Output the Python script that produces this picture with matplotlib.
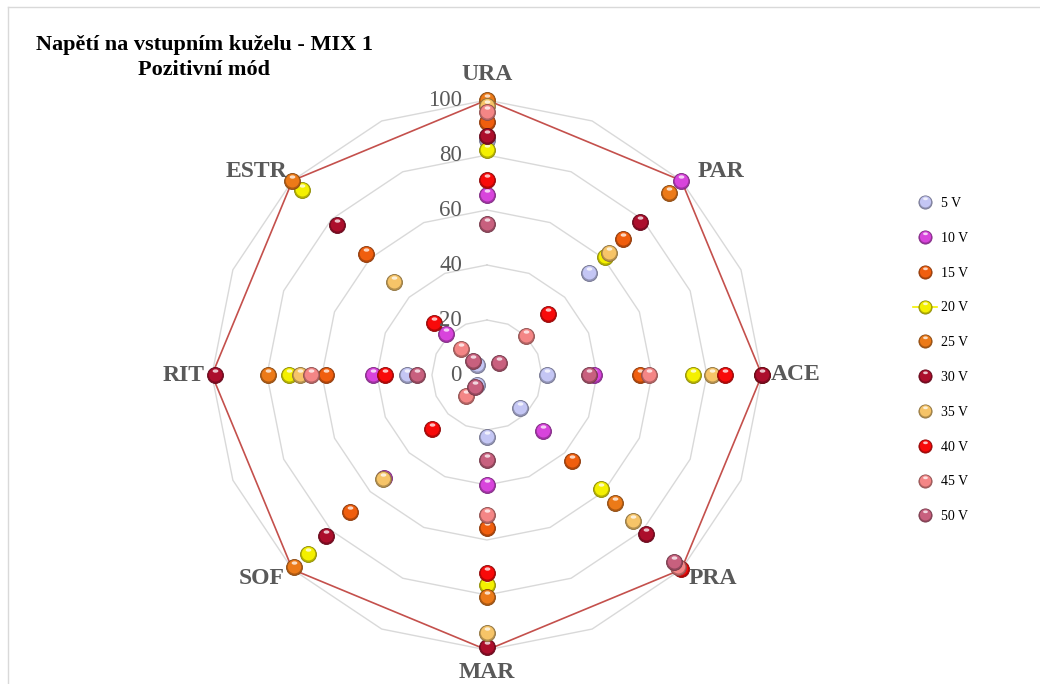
import numpy as np
import matplotlib
matplotlib.use("Agg")
import matplotlib.pyplot as plt
from matplotlib import transforms
from matplotlib.lines import Line2D
from matplotlib.path import Path
from matplotlib.colors import to_rgb
from matplotlib.legend_handler import HandlerTuple

# ---- data -------------------------------------------------------------
categories = ["URA", "PAR", "ACE", "PRA", "MAR", "SOF", "RIT", "ESTR"]
series_labels = ["5 V", "10 V", "15 V", "20 V", "25 V",
                 "30 V", "35 V", "40 V", "45 V", "50 V"]

#          URA   PAR   ACE   PRA   MAR   SOF   RIT   ESTR
v5  = [85.5, 52.5, 22.0, 17.0, 22.5,  5.0, 29.0,  5.0]
v10 = [65.5, 100., 39.0, 29.0, 40.0, 53.0, 41.5, 21.0]
v15 = [92.0, 70.0, 55.6, 44.0, 55.6, 70.5, 58.5, 62.0]
v20 = [82.0, 60.5, 75.0, 58.6, 76.4, 92.0, 72.0, 95.0]
v25 = [100., 93.5, 100., 66.0, 80.7, 99.0, 79.6, 100.]
v30 = [87.0, 78.7, 100., 82.0, 99.0, 83.0, 99.0, 77.0]
v35 = [98.0, 63.0, 82.0, 75.0, 94.0, 53.5, 68.0, 48.0]
v40 = [71.0, 31.5, 86.5, 100., 72.0, 28.0, 37.0, 27.0]
v45 = [95.6, 20.0, 59.0, 98.5, 51.0, 11.0, 64.0, 13.4]
v50 = [55.0,  6.0, 37.0, 96.0, 31.0,  6.0, 25.5,  7.0]
envelope = [100, 100, 100, 100, 100, 100, 100, 100]

radial_ticks = [0, 20, 40, 60, 80, 100]
title_lines = ["Napětí na vstupním kuželu - MIX 1", "Pozitivní mód"]

series_values = [v5, v10, v15, v20, v25, v30, v35, v40, v45, v50]
series_colors = ["#c4c6f4", "#d844dc", "#f05e0e", "#f4f000", "#ec7a18",
                 "#ac0e2c", "#f6c468", "#f80a0a", "#f48686", "#c8607e"]

SERIF = "Liberation Serif"
LABEL_GREY = "#595959"


# ---- sphere-like marker paths ------------------------------------------
def _blob(cx, cy, rx, ry):
    circ = Path.unit_circle()
    verts = circ.vertices * [rx, ry] + [cx, cy]
    # anchor vertex keeps every layer on the same marker scale
    anchor = Path([[0.5, 0.0]], [Path.MOVETO])
    return Path.make_compound_path(anchor, Path(verts, circ.codes))


BODY = _blob(0.0, 0.045, 0.42, 0.42)
SHINE = _blob(0.0, 0.28, 0.18, 0.105)


def shade(c, f):
    r, g, b = to_rgb(c)
    return (r * f, g * f, b * f)


def sphere_layers(color, ms):
    base = dict(marker="o", ms=ms, mfc=shade(color, 0.74),
                mec=shade(color, 0.58), mew=0.6, ls="none")
    body = dict(marker=BODY, ms=ms, mfc=color, mec="none", ls="none")
    shine = dict(marker=SHINE, ms=ms, mfc=(1, 1, 1, 0.75), mec="none",
                 ls="none")
    return [base, body, shine]


# ---- figure -------------------------------------------------------------
fig = plt.figure(figsize=(10.4, 6.84), dpi=100)
fig.patch.set_facecolor("white")

ax = fig.add_axes([0.2038, 0.0497, 0.5288, 0.8041], projection="polar")
ax.set_theta_zero_location("N")
ax.set_theta_direction(-1)
ax.set_ylim(0, 100)
ax.grid(False)
ax.spines["polar"].set_visible(False)
ax.set_xticks([])
ax.set_yticks([])
ax.patch.set_alpha(0)

n = len(categories)
theta = np.deg2rad(np.arange(n) * 360.0 / n)
theta_closed = np.append(theta, theta[0])

# polygonal grid rings (16 vertices)
grid_theta = np.deg2rad(np.arange(0, 360 + 22.5, 22.5))
for t in radial_ticks[1:]:
    ax.plot(grid_theta, np.full(grid_theta.shape, t), color="#d9d9d9",
            lw=1.0, zorder=1, clip_on=False)

# maximum envelope
env = np.append(envelope, envelope[0])
ax.plot(theta_closed, env, color="#c4504c", lw=1.2, zorder=2, clip_on=False)

# series points
MS = 11.5
z = 3
for vals, col in zip(series_values, series_colors):
    for layer in sphere_layers(col, MS):
        ax.plot(theta, vals, zorder=z, clip_on=False, **layer)
        z += 0.1

# radial value labels along the URA axis
for t in radial_ticks:
    tr = transforms.offset_copy(ax.transData, fig=fig, x=-25, y=0,
                                units="dots")
    ax.text(0, t, str(t), transform=tr, ha="right", va="center",
            fontsize=16.5, family=SERIF, color=LABEL_GREY, zorder=20)

# category labels
label_offsets = {
    "URA": ("center", 0, 26),
    "PAR": ("left", 16, 9),
    "ACE": ("left", 9, 1),
    "PRA": ("left", 7, -9),
    "MAR": ("center", 0, -23),
    "SOF": ("right", -8, -9),
    "RIT": ("right", -7, 0),
    "ESTR": ("right", -5, 9),
}
for ang, cat in zip(theta, categories):
    ha, dx, dy = label_offsets[cat]
    tr = transforms.offset_copy(ax.transData, fig=fig, x=dx, y=dy,
                                units="dots")
    ax.text(ang, 100, cat, transform=tr, ha=ha, va="center",
            fontsize=17, fontweight="bold", family=SERIF,
            color=LABEL_GREY, zorder=20)

# title
fig.text(204 / 1040, 1 - 45 / 684, title_lines[0], ha="center",
         va="center", fontsize=16, fontweight="bold", family=SERIF,
         color="black")
fig.text(204 / 1040, 1 - 70 / 684, title_lines[1], ha="center",
         va="center", fontsize=16, fontweight="bold", family=SERIF,
         color="black")

# chart frame (left and top edges)
fig.add_artist(Line2D([8 / 1040, 8 / 1040], [0, 1 - 7 / 684],
                      transform=fig.transFigure, color="#d9d9d9", lw=1))
fig.add_artist(Line2D([8 / 1040, 1], [1 - 7 / 684, 1 - 7 / 684],
                      transform=fig.transFigure, color="#d9d9d9", lw=1))

# legend
handles = []
for lab, col in zip(series_labels, series_colors):
    parts = []
    if lab == "20 V":
        parts.append(Line2D([], [], color=col, lw=1.2))
    for layer in sphere_layers(col, 9.5):
        parts.append(Line2D([], [], **layer))
    handles.append(tuple(parts))

fig.legend(handles, series_labels, loc="upper left",
           bbox_to_anchor=(913 / 1040, 1 - 197 / 684),
           bbox_transform=fig.transFigure, frameon=False,
           prop={"family": SERIF, "size": 10}, labelspacing=1.57,
           handlelength=1.75, handletextpad=0.25, borderpad=0,
           borderaxespad=0,
           handler_map={tuple: HandlerTuple(ndivide=1, pad=0)})

fig.savefig("out.png", dpi=100, facecolor="white")
